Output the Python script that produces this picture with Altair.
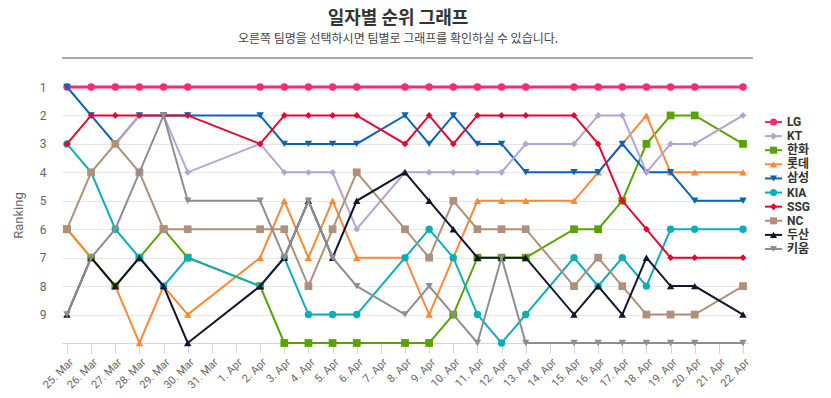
import altair as alt
import pandas as pd

# ---------------- data ----------------
dates = ["2025-03-25", "2025-03-26", "2025-03-27", "2025-03-28", "2025-03-29", "2025-03-30",
         "2025-04-02", "2025-04-03", "2025-04-04", "2025-04-05", "2025-04-06", "2025-04-08",
         "2025-04-09", "2025-04-10", "2025-04-11", "2025-04-12", "2025-04-13", "2025-04-15",
         "2025-04-16", "2025-04-17", "2025-04-18", "2025-04-19", "2025-04-20", "2025-04-22"]

teams = ["LG", "KT", "한화", "롯데", "삼성", "KIA", "SSG", "NC", "두산", "키움"]
colors = ["#f72a72", "#b4a3d4", "#58a300", "#fd8836", "#0b62b6", "#0badbd",
          "#e2072f", "#b09079", "#13142e", "#8e8e8e"]
shapes = ["circle", "diamond", "square", "triangle-up", "triangle-down",
          "circle", "diamond", "square", "triangle-up", "triangle-down"]

lg = [1, 1, 1, 1, 1, 1, 1, 1, 1, 1, 1, 1, 1, 1, 1, 1, 1, 1, 1, 1, 1, 1, 1, 1]
kt = [None, None, 3, 2, 2, 4, 3, 4, 4, 4, 6, 4, 4, 4, 4, 4, 3, 3, 2, 2, 4, 3, 3, 2]
hanwha = [6, 7, 8, 7, 6, 7, 8, 10, 10, 10, 10, 10, 10, 9, 7, 7, 7, 6, 6, 5, 3, 2, 2, 3]
lotte = [6, 7, 8, 10, 8, 9, 7, 5, 7, 5, 7, 7, 9, 7, 5, 5, 5, 5, 4, 3, 2, 4, 4, 4]
samsung = [1, 2, 3, 2, 2, 2, 2, 3, 3, 3, 3, 2, 3, 2, 3, 3, 4, 4, 4, 3, 4, 4, 5, 5]
kia = [3, 4, 6, 7, 8, 7, 8, 7, 9, 9, 9, 7, 6, 7, 9, 10, 9, 7, 8, 7, 8, 6, 6, 6]
ssg = [3, 2, 2, 2, 2, 2, 3, 2, 2, 2, 2, 3, 2, 3, 2, 2, 2, 2, 3, 5, 6, 7, 7, 7]
nc = [6, 4, 3, 4, 6, 6, 6, 6, 8, 6, 4, 6, 7, 5, 6, 6, 6, 8, 7, 8, 9, 9, 9, 8]
doosan = [9, 7, 8, 7, 8, 10, 8, 7, 5, 7, 5, 4, 5, 6, 7, 7, 7, 9, 8, 9, 7, 8, 8, 9]
kiwoom = [9, 7, 6, 4, 2, 5, 5, 7, 5, 7, 8, 9, 8, 9, 10, 7, 10, 10, 10, 10, 10, 10, 10, 10]

ranks = {"LG": lg, "KT": kt, "한화": hanwha, "롯데": lotte, "삼성": samsung,
         "KIA": kia, "SSG": ssg, "NC": nc, "두산": doosan, "키움": kiwoom}

# drawing order (later ones on top)
draw_order = ["LG", "한화", "롯데", "삼성", "KT", "KIA", "SSG", "NC", "두산", "키움"]

rows = []
for t in teams:
    for d, r in zip(dates, ranks[t]):
        if r is not None:
            rows.append({"team": t, "date": d + "T00:00:00", "rank": r})
df = pd.DataFrame(rows)

FONT = "Roboto, 'Noto Sans CJK KR', sans-serif"
KFONT = "'Noto Sans CJK KR', sans-serif"

color_scale = alt.Scale(domain=teams, range=colors)
shape_scale = alt.Scale(domain=teams, range=shapes)

x_axis = alt.Axis(
    title=None, grid=False, format="%-d. %b", labelAngle=-45,
    tickCount=alt.TimeIntervalStep(interval="day", step=1),
    labelOverlap=False, labelColor="#666666", labelFontSize=11, labelFont=FONT,
    domainColor="#ccd6eb", tickColor="#ccd6eb", tickSize=10, labelPadding=3,
)
x_enc = alt.X(
    "date:T",
    scale=alt.Scale(domain=[alt.DateTime(year=2025, month=3, date=25),
                            alt.DateTime(year=2025, month=4, date=22)],
                    padding=5, nice=False),
    axis=x_axis,
)
y_enc = alt.Y(
    "rank:Q",
    scale=alt.Scale(domain=[1, 10], reverse=True, nice=False, zero=False),
    axis=alt.Axis(values=[1, 2, 3, 4, 5, 6, 7, 8, 9], title="Ranking", grid=True,
                  gridColor="#e6e6e6", ticks=False, domain=False,
                  labelColor="#666666", labelFontSize=12, labelFont=FONT,
                  titleColor="#666666", titleFontSize=13, titleFontWeight="normal",
                  titleFont=FONT, labelPadding=16, titlePadding=14),
)
color_enc = alt.Color("team:N", scale=color_scale, legend=None)
shape_enc = alt.Shape("team:N", scale=shape_scale, legend=None)

sizes = {"circle": 55, "diamond": 45, "square": 60, "triangle-up": 55, "triangle-down": 55}

layers = []
for t in draw_order:
    shp = shapes[teams.index(t)]
    base = alt.Chart().transform_filter(alt.datum.team == t)
    line = base.mark_line(strokeWidth=3 if t == "LG" else 2).encode(
        x=x_enc, y=y_enc, color=color_enc)
    pts = base.mark_point(filled=True, opacity=1, size=sizes[shp]).encode(
        x=x_enc, y=y_enc, color=color_enc, shape=shape_enc)
    layers += [line, pts]

main = alt.layer(*layers, data=df)

# ---------------- custom legend ----------------
leg_df = pd.DataFrame({"team": teams})
leg_y = alt.Y("team:N", sort=teams,
              scale=alt.Scale(type="point", domain=teams, range=[35, 162], padding=0),
              axis=None)
leg_base = alt.Chart(leg_df)
leg_rule = leg_base.mark_rule(strokeWidth=2).encode(
    x=alt.value(703), x2=alt.value(720), y=leg_y, color=color_enc)
leg_pts = leg_base.mark_point(filled=True, opacity=1, size=50).encode(
    x=alt.value(711.5), y=leg_y, color=color_enc, shape=shape_enc)
leg_txt = leg_base.mark_text(align="left", baseline="middle", fontSize=12,
                             fontWeight="bold", color="#333333", font=FONT).encode(
    x=alt.value(725), y=leg_y, text="team:N")
legend = alt.layer(leg_rule, leg_pts, leg_txt)

# separator line under the title
sep = alt.Chart(pd.DataFrame({"a": [0]})).mark_rule(color="#8c8c8c", strokeWidth=1.5).encode(
    x=alt.value(0), x2=alt.value(691), y=alt.value(-29))

chart = alt.layer(main, legend, sep).resolve_scale(y="independent").properties(
    width=686, height=256,
    padding={"left": 4, "top": 2, "right": 0, "bottom": 0},
    title=alt.TitleParams(
        text="일자별 순위 그래프",
        subtitle="오른쪽 팀명을 선택하시면 팀별로 그래프를 확인하실 수 있습니다.",
        font=KFONT, fontSize=18, fontWeight="bold", color="#333333",
        subtitleFont=KFONT, subtitleFontSize=12, subtitleColor="#444444",
        subtitleFontWeight="normal", subtitlePadding=6,
        anchor="middle", frame="group", dx=-7, offset=12,
    ),
).configure_view(stroke=None)

chart.save("out.html", embed_options={"renderer": "svg", "actions": False})
